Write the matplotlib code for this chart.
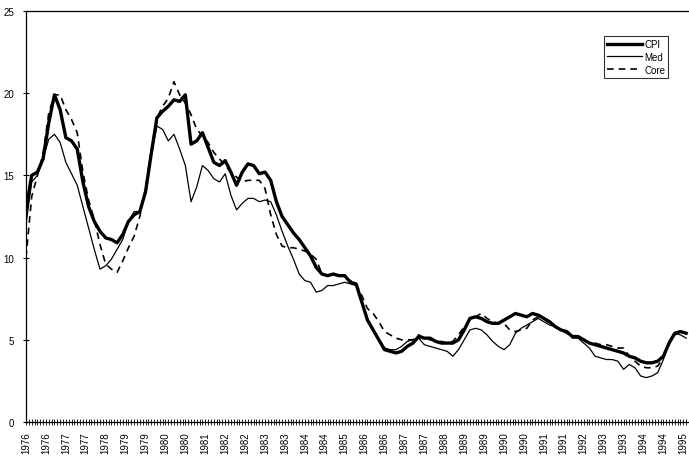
import numpy as np
import matplotlib
matplotlib.use("Agg")
import matplotlib.pyplot as plt

# monthly index (0 = Jan 1976), one reading every 2 months
months = np.arange(0, 233, 2)

cpi = [12.9, 15.0, 15.2, 16.0, 18.2, 19.9, 19.0, 17.3, 17.1, 16.6,
       14.6, 13.1, 12.2, 11.6, 11.2, 11.1, 10.9, 11.4, 12.2, 12.6,
       12.8, 14.0, 16.3, 18.5, 18.9, 19.2, 19.6, 19.5, 19.9, 16.9,
       17.1, 17.6, 16.7, 15.8, 15.6, 15.9, 15.2, 14.4, 15.2, 15.7,
       15.6, 15.1, 15.2, 14.7, 13.4, 12.5, 12.0, 11.5, 11.1, 10.6,
       10.1, 9.4, 9.0, 8.9, 9.0, 8.9, 8.9, 8.5, 8.4, 7.3,
       6.2, 5.6, 5.0, 4.4, 4.3, 4.2, 4.3, 4.6, 4.8, 5.2,
       5.1, 5.1, 4.9, 4.8, 4.8, 4.8, 5.0, 5.6, 6.3, 6.4,
       6.3, 6.1, 6.0, 6.0, 6.2, 6.4, 6.6, 6.5, 6.4, 6.6,
       6.5, 6.3, 6.1, 5.8, 5.6, 5.5, 5.2, 5.2, 5.0, 4.8,
       4.7, 4.6, 4.5, 4.4, 4.3, 4.2, 4.0, 3.9, 3.7, 3.6,
       3.6, 3.7, 4.0, 4.8, 5.4, 5.5, 5.4]

med = [12.0, 14.6, 15.0, 16.0, 17.2, 17.5, 17.0, 15.8, 15.1, 14.4,
       13.1, 11.8, 10.5, 9.3, 9.5, 9.9, 10.5, 11.1, 12.2, 12.8,
       12.8, 14.0, 16.2, 18.0, 17.8, 17.1, 17.5, 16.6, 15.6, 13.4,
       14.3, 15.6, 15.3, 14.8, 14.6, 15.1, 13.8, 12.9, 13.3, 13.6,
       13.6, 13.4, 13.5, 13.4, 12.6, 11.6, 10.7, 9.9, 9.0, 8.6,
       8.5, 7.9, 8.0, 8.3, 8.3, 8.4, 8.5, 8.4, 8.3, 7.3,
       6.3, 5.6, 5.0, 4.5, 4.4, 4.4, 4.6, 4.9, 5.0, 5.1,
       4.7, 4.6, 4.5, 4.4, 4.3, 4.0, 4.4, 5.0, 5.6, 5.7,
       5.6, 5.3, 4.9, 4.6, 4.4, 4.7, 5.4, 5.7, 5.9, 6.1,
       6.3, 6.1, 5.9, 5.8, 5.6, 5.5, 5.1, 5.1, 4.8, 4.5,
       4.0, 3.9, 3.8, 3.8, 3.7, 3.2, 3.5, 3.3, 2.8, 2.7,
       2.8, 3.0, 3.8, 4.9, 5.4, 5.3, 5.1]

core = [10.0, 13.7, 15.0, 16.3, 18.8, 19.9, 19.9, 19.0, 18.4, 17.6,
        15.2, 13.5, 12.3, 10.8, 9.6, 9.3, 9.1, 9.8, 10.6, 11.3,
        12.5, 14.2, 16.5, 18.5, 19.2, 19.7, 20.7, 19.9, 19.4, 18.7,
        17.8, 17.4, 17.0, 16.4, 16.0, 15.6, 15.2, 14.9, 14.6, 14.7,
        14.7, 14.7, 14.2, 12.6, 11.4, 10.7, 10.6, 10.6, 10.5, 10.4,
        10.2, 9.9, 9.0, 8.9, 9.0, 8.9, 8.8, 8.6, 8.4, 7.7,
        6.9, 6.6, 6.1, 5.5, 5.3, 5.1, 5.0, 5.0, 5.0, 5.3,
        5.1, 5.0, 4.9, 4.9, 4.8, 4.9, 5.3, 5.8, 6.2, 6.4,
        6.6, 6.3, 6.1, 6.0, 6.0, 5.6, 5.5, 5.6, 5.7, 6.2,
        6.4, 6.3, 6.0, 5.8, 5.6, 5.4, 5.2, 5.2, 5.0, 4.8,
        4.8, 4.7, 4.7, 4.6, 4.5, 4.5, 4.0, 3.7, 3.4, 3.3,
        3.3, 3.4, 3.9, 4.8, 5.3, 5.5, 5.4]

tick_labels = ['1976', '1976', '1977', '1977', '1978', '1979', '1979', '1980',
               '1980', '1981', '1982', '1982', '1983', '1983', '1984', '1984',
               '1985', '1986', '1986', '1987', '1987', '1988', '1989', '1989',
               '1990', '1990', '1991', '1991', '1992', '1993', '1993', '1994',
               '1994', '1995']

plt.rcParams['font.family'] = ['Liberation Sans', 'DejaVu Sans']

fig = plt.figure(figsize=(6.89, 4.6), dpi=100)
ax = fig.add_axes([26 / 689, 37 / 460, 663 / 689, 411 / 460])

ax.plot(months, cpi, color='black', lw=2.4, label='CPI')
ax.plot(months, med, color='black', lw=0.9, label='Med')
ax.plot(months, core, color='black', lw=1.2, ls=(0, (4, 3)), label='Core')

ax.set_xlim(0, 233)
ax.set_ylim(0, 25)
ax.set_yticks([0, 5, 10, 15, 20, 25])
ax.set_xticks(np.arange(0, 7 * len(tick_labels), 7))
ax.set_xticklabels(tick_labels, rotation=90)
ax.set_xticks(np.arange(0, 234, 1), minor=True)

ax.tick_params(axis='y', direction='inout', length=5, width=0.8, labelsize=7, pad=6)
ax.tick_params(axis='x', which='major', direction='inout', length=5, width=0.6,
               labelsize=7, pad=4)
ax.tick_params(axis='x', which='minor', direction='inout', length=4, width=0.6)

ax.spines['right'].set_visible(False)
for s in ['left', 'bottom', 'top']:
    ax.spines[s].set_linewidth(0.9)

leg = ax.legend(loc='upper right', bbox_to_anchor=(668 / 689, 1 - 37 / 460),
                bbox_transform=fig.transFigure, fontsize=7, frameon=True,
                fancybox=False, edgecolor='black', handlelength=3.6,
                handletextpad=0.2, borderpad=0.3, labelspacing=0.3,
                borderaxespad=0)
leg.get_frame().set_linewidth(0.8)

fig.savefig('out.png', dpi=100)
